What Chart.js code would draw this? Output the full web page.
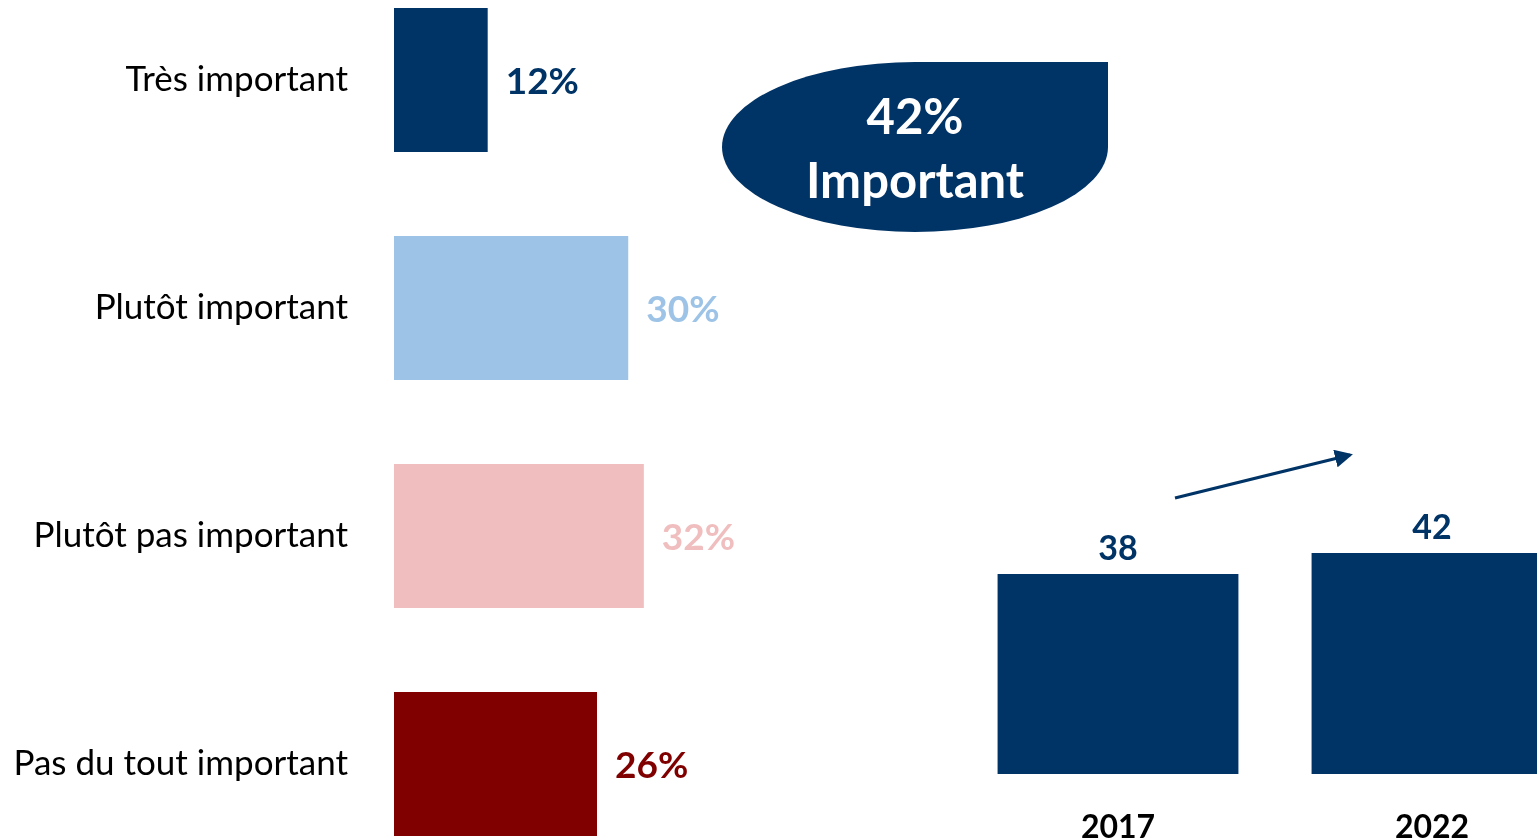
<!DOCTYPE html>
<html>
<head>
<meta charset="utf-8">
<script src="https://cdn.jsdelivr.net/npm/chart.js@4/dist/chart.umd.min.js"></script>
<style>
  html, body { margin: 0; padding: 0; background: #fff; overflow: hidden; }
  body { width: 1537px; height: 839px; position: relative; font-family: Lato, sans-serif; }
  #levelChart { position: absolute; left: 0; top: -34px; }
  #trendChart { position: absolute; left: 961px; top: 450px; }
  .bubble {
    position: absolute; left: 722px; top: 62px; width: 386px; height: 170px;
    background: #003366; border-radius: 50% 0 50% 50%;
    color: #fff; font-weight: bold; font-size: 49px; line-height: 64px;
    display: flex; flex-direction: column; align-items: center; justify-content: center;
  }
  svg { position: absolute; left: 0; top: 0; }
</style>
</head>
<body>
<canvas id="levelChart" width="800" height="912"></canvas>
<canvas id="trendChart" width="628" height="389"></canvas>
<div class="bubble"><div>42%</div><div>Important</div></div>
<svg width="1537" height="839">
  <defs>
    <marker id="head" markerWidth="6" markerHeight="6" refX="5" refY="3" orient="auto">
      <path d="M0,0 L6,3 L0,6 z" fill="#003366"/>
    </marker>
  </defs>
  <line x1="1175" y1="498" x2="1350" y2="455" stroke="#003366" stroke-width="3" marker-end="url(#head)"/>
</svg>
<script>
const levels = ['Très important', 'Plutôt important', 'Plutôt pas important', 'Pas du tout important'];
const levelValues = [12, 30, 32, 26];
const levelColors = ['#003366', '#9dc3e6', '#f0bebe', '#800000'];

const years = ['2017', '2022'];
const yearValues = [38, 42];

const barLabels = {
  id: 'barLabels',
  afterDatasetsDraw(chart, args, opts) {
    const ctx = chart.ctx;
    const meta = chart.getDatasetMeta(0);
    ctx.save();
    ctx.font = 'bold ' + opts.size + 'px Lato';
    meta.data.forEach((bar, i) => {
      const v = chart.data.datasets[0].data[i];
      ctx.fillStyle = opts.colors ? opts.colors[i] : '#003366';
      if (opts.horizontal) {
        ctx.textAlign = 'left';
        ctx.textBaseline = 'middle';
        ctx.fillText(v + '%', bar.x + 18, bar.y + 2);
      } else {
        ctx.textAlign = 'center';
        ctx.textBaseline = 'alphabetic';
        ctx.fillText(String(v), bar.x, bar.y - 14);
      }
    });
    ctx.restore();
  }
};

new Chart(document.getElementById('levelChart'), {
  type: 'bar',
  data: {
    labels: levels,
    datasets: [{ data: levelValues, backgroundColor: levelColors, categoryPercentage: 1, barPercentage: 0.632 }]
  },
  options: {
    indexAxis: 'y',
    responsive: false,
    animation: false,
    layout: { padding: 0 },
    plugins: {
      legend: { display: false },
      tooltip: { enabled: false },
      barLabels: { horizontal: true, size: 37, colors: levelColors }
    },
    scales: {
      x: { display: false, min: 0, max: 52 },
      y: {
        grid: { display: false, drawTicks: false },
        border: { display: false },
        ticks: { color: '#000', padding: 46, font: { family: 'Lato', size: 35 } },
        afterFit(scale) { scale.width = 394; scale.paddingTop = 0; scale.paddingBottom = 0; }
      }
    }
  },
  plugins: [barLabels]
});

new Chart(document.getElementById('trendChart'), {
  type: 'bar',
  data: {
    labels: years,
    datasets: [{ data: yearValues, backgroundColor: '#003366', categoryPercentage: 1, barPercentage: 0.767 }]
  },
  options: {
    responsive: false,
    animation: false,
    layout: { padding: { top: 61 } },
    plugins: {
      legend: { display: false },
      tooltip: { enabled: false },
      barLabels: { horizontal: false, size: 34 }
    },
    scales: {
      y: { display: false, min: 0, max: 50 },
      x: {
        grid: { display: false },
        border: { display: false },
        ticks: { color: '#000', padding: 26, font: { family: 'Lato', size: 32, weight: 'bold' } },
        afterFit(scale) { scale.height = 65; }
      }
    }
  },
  plugins: [barLabels]
});
</script>
</body>
</html>
